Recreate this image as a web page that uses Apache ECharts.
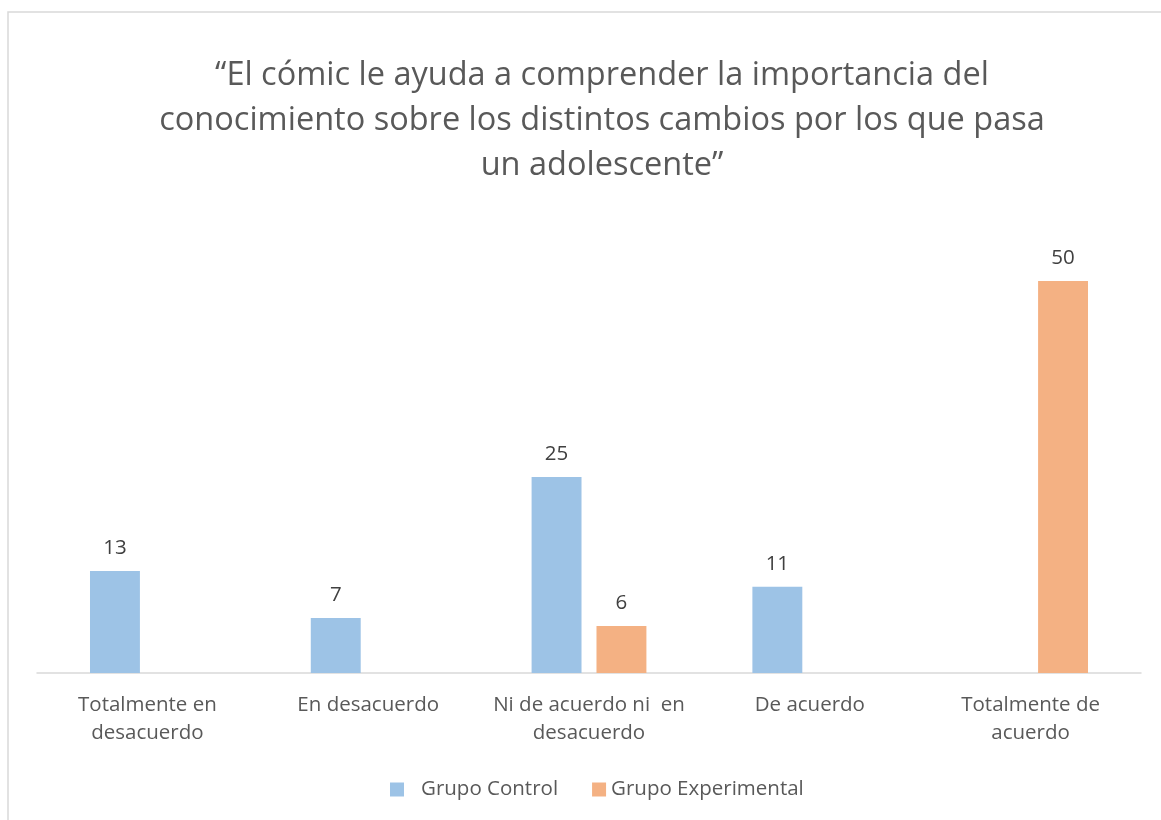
<!DOCTYPE html>
<html lang="es">
<head>
    <meta charset="UTF-8" />
    <title>El cómic</title>
    <script src="https://cdn.jsdelivr.net/npm/echarts@6/dist/echarts.min.js"></script>
    <style>
        html, body { margin: 0; padding: 0; background: #fff; }
        #main { width: 1161px; height: 820px; }
    </style>
</head>
<body>
    <div id="main"></div>
    <script>
        var chartDom = document.getElementById('main');
        var myChart = echarts.init(chartDom);

        // datos
        const categorias = ['Totalmente en\ndesacuerdo', 'En desacuerdo', 'Ni de acuerdo ni  en\ndesacuerdo', 'De acuerdo', 'Totalmente de\nacuerdo'];
        const grupoControl = [13, 7, 25, 11, '-'];
        const grupoExperimental = ['-', '-', 6, '-', 50];

        const fuente = '"Open Sans", "Noto Sans", sans-serif';
        const gris = '#595959';

        var option = {
            animation: false,
            title: {
                text: '“El cómic le ayuda a comprender la importancia del\nconocimiento sobre los distintos cambios por los que pasa\nun adolescente”',
                left: 597,
                top: 48,
                textAlign: 'center',
                textStyle: {
                    fontFamily: fuente,
                    fontSize: 32.5,
                    fontWeight: 'normal',
                    color: gris,
                    lineHeight: 45
                }
            },
            graphic: [{
                type: 'rect',
                shape: { x: 8, y: 12, width: 1170, height: 830 },
                style: { fill: 'none', stroke: '#d9d9d9', lineWidth: 1.5 },
                silent: true
            }],
            legend: {
                top: 774,
                left: 385,
                itemWidth: 14,
                itemHeight: 14,
                itemGap: 34,
                icon: 'rect',
                data: [
                    { name: 'Grupo Control', textStyle: { padding: [0, 0, 0, 12] } },
                    'Grupo Experimental'
                ],
                textStyle: { fontFamily: fuente, fontSize: 20.5, color: gris }
            },
            grid: { top: 281, bottom: 147, left: 37, right: 20 },
            xAxis: {
                type: 'category',
                data: categorias,
                axisTick: { show: false },
                axisLine: { lineStyle: { color: '#d9d9d9', width: 1.5 } },
                axisLabel: {
                    fontFamily: fuente,
                    fontSize: 20.5,
                    color: gris,
                    lineHeight: 28,
                    margin: 18,
                    interval: 0
                }
            },
            yAxis: {
                type: 'value',
                min: 0,
                max: 50,
                show: false
            },
            series: [
                {
                    name: 'Grupo Control',
                    type: 'bar',
                    data: grupoControl,
                    barGap: '30%',
                    barCategoryGap: '48%',
                    itemStyle: { color: '#9dc3e6' },
                    label: {
                        show: true, position: 'top', distance: 12,
                        fontFamily: fuente, fontSize: 20.5, color: '#404040'
                    }
                },
                {
                    name: 'Grupo Experimental',
                    type: 'bar',
                    data: grupoExperimental,
                    itemStyle: { color: '#f4b183' },
                    label: {
                        show: true, position: 'top', distance: 12,
                        fontFamily: fuente, fontSize: 20.5, color: '#404040'
                    }
                }
            ]
        };

        myChart.setOption(option);
    </script>
</body>
</html>
